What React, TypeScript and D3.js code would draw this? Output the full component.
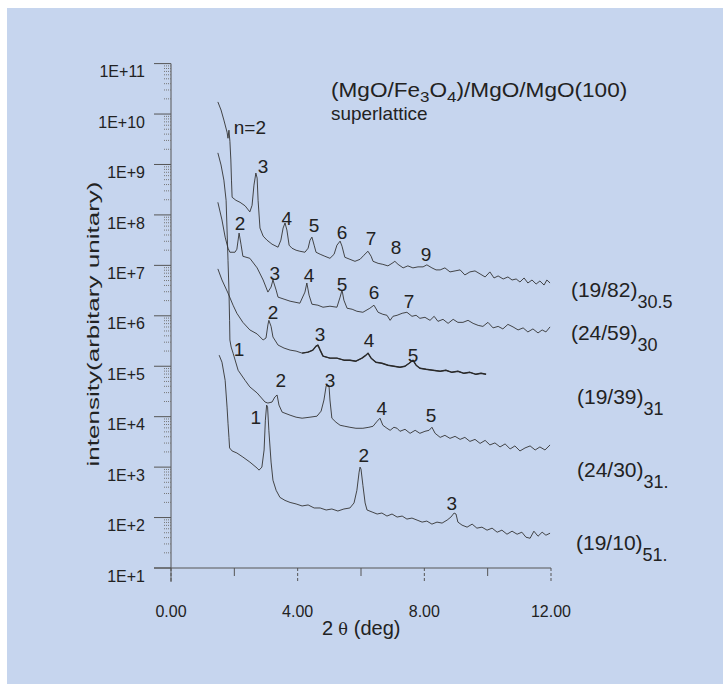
import * as d3 from "d3";

// 2θ (deg) , log10(intensity) pairs
const curve1982 = [
  [1.48, 10.24], [1.58, 10.08], [1.67, 9.88], [1.77, 9.64], [1.8, 9.52], [1.83, 9.68], [1.86, 9.46],
  [1.89, 9.09], [1.91, 8.69], [1.93, 8.35], [2.05, 8.29], [2.18, 8.25], [2.34, 8.18], [2.49, 8.06],
  [2.56, 8.19], [2.62, 8.59], [2.68, 8.83], [2.72, 8.73], [2.75, 8.29], [2.81, 7.74], [2.91, 7.58],
  [3.03, 7.5], [3.19, 7.42], [3.38, 7.36], [3.47, 7.5], [3.54, 7.74], [3.6, 7.84], [3.66, 7.7],
  [3.73, 7.4], [3.82, 7.34], [3.95, 7.3], [4.07, 7.28], [4.23, 7.26], [4.33, 7.34], [4.39, 7.5],
  [4.45, 7.56], [4.52, 7.4], [4.58, 7.26], [4.71, 7.22], [4.86, 7.18], [5.02, 7.14], [5.15, 7.22],
  [5.24, 7.4], [5.34, 7.48], [5.4, 7.38], [5.49, 7.16], [5.65, 7.12], [5.81, 7.08], [5.97, 7.12],
  [6.09, 7.2], [6.22, 7.28], [6.32, 7.18], [6.38, 7.08], [6.54, 7.04], [6.69, 7.02], [6.85, 6.99],
  [6.98, 7.04], [7.07, 7.08], [7.17, 7.02], [7.33, 6.95], [7.48, 6.99], [7.64, 6.95], [7.8, 6.97],
  [7.96, 6.97], [8.08, 7.01], [8.24, 6.95], [8.37, 6.91], [8.5, 6.91], [8.65, 6.95], [8.81, 6.87],
  [8.97, 6.89], [9.13, 6.91], [9.28, 6.81], [9.44, 6.87], [9.6, 6.89], [9.76, 6.83], [9.92, 6.77],
  [10.07, 6.87], [10.2, 6.75], [10.33, 6.79], [10.49, 6.73], [10.64, 6.77], [10.77, 6.71], [10.9, 6.73],
  [11.02, 6.67], [11.15, 6.75], [11.27, 6.65], [11.4, 6.71], [11.53, 6.63], [11.65, 6.69], [11.78, 6.61],
  [11.87, 6.71], [11.97, 6.65],
];

const curve2459 = [
  [1.48, 8.25], [1.61, 7.9], [1.71, 7.56], [1.8, 7.34], [1.86, 7.26], [2.02, 7.26], [2.08, 7.32],
  [2.15, 7.64], [2.21, 7.42], [2.27, 7.18], [2.49, 7.14], [2.72, 6.95], [2.91, 6.71], [3.06, 6.47],
  [3.16, 6.57], [3.22, 6.71], [3.32, 6.51], [3.38, 6.37], [3.57, 6.33], [3.76, 6.29], [4.07, 6.25],
  [4.23, 6.47], [4.29, 6.65], [4.36, 6.41], [4.45, 6.23], [4.64, 6.21], [4.8, 6.17], [5.02, 6.19],
  [5.24, 6.17], [5.34, 6.37], [5.4, 6.51], [5.46, 6.31], [5.56, 6.15], [5.72, 6.13], [5.87, 6.09],
  [6.06, 6.07], [6.28, 6.15], [6.41, 6.21], [6.54, 6.07], [6.69, 6.03], [6.82, 6.01], [6.92, 5.91],
  [7.01, 5.99], [7.14, 6.01], [7.3, 6.05], [7.45, 6.07], [7.61, 5.99], [7.74, 6.01], [7.86, 5.95],
  [8.02, 5.97], [8.18, 5.91], [8.31, 5.99], [8.43, 5.89], [8.59, 5.93], [8.75, 5.85], [8.91, 5.93],
  [9.06, 5.87], [9.22, 5.87], [9.38, 5.91], [9.54, 5.85], [9.7, 5.81], [9.85, 5.79], [10.01, 5.87],
  [10.17, 5.76], [10.33, 5.79], [10.48, 5.74], [10.64, 5.83], [10.8, 5.78], [10.96, 5.72], [11.12, 5.76],
  [11.27, 5.68], [11.43, 5.74], [11.59, 5.66], [11.72, 5.72], [11.84, 5.68], [11.97, 5.78],
];

const curve1939 = [
  [1.48, 6.93], [1.61, 6.71], [1.8, 6.45], [1.96, 6.21], [2.08, 6.05], [2.27, 5.87], [2.49, 5.72],
  [2.72, 5.64], [2.91, 5.52], [3.0, 5.56], [3.06, 5.82], [3.09, 5.91], [3.16, 5.79], [3.22, 5.58],
  [3.38, 5.42], [3.57, 5.36], [3.76, 5.32], [3.95, 5.3], [4.14, 5.26], [4.33, 5.28], [4.48, 5.32],
  [4.58, 5.4], [4.64, 5.42], [4.71, 5.32], [4.8, 5.2], [5.02, 5.16], [5.24, 5.16], [5.46, 5.12],
  [5.65, 5.12], [5.84, 5.1], [6.03, 5.16], [6.16, 5.22], [6.22, 5.26], [6.32, 5.16], [6.47, 5.08],
  [6.66, 5.06], [6.85, 5.02], [7.04, 5.0], [7.23, 4.98], [7.39, 5.0], [7.52, 5.06], [7.64, 5.12],
  [7.74, 5.02], [7.86, 4.96], [8.05, 4.94], [8.27, 4.92], [8.5, 4.9], [8.68, 4.92], [8.87, 4.88],
  [9.06, 4.9], [9.25, 4.86], [9.44, 4.88], [9.63, 4.84], [9.79, 4.86], [9.95, 4.84],
];

const curve2430 = [
  [1.48, 9.23], [1.58, 8.99], [1.67, 8.69], [1.74, 8.29], [1.77, 7.7], [1.8, 7.1], [1.83, 6.51],
  [1.85, 5.91], [1.86, 5.52], [1.9, 5.38], [1.96, 5.26], [2.12, 4.92], [2.34, 4.72], [2.49, 4.59],
  [2.72, 4.47], [2.97, 4.29], [3.06, 4.27], [3.19, 4.29], [3.28, 4.39], [3.35, 4.43], [3.41, 4.23],
  [3.51, 4.09], [3.76, 4.03], [3.95, 3.99], [4.14, 3.97], [4.39, 3.99], [4.61, 4.01], [4.74, 4.11],
  [4.83, 4.33], [4.9, 4.61], [4.93, 4.63], [4.99, 4.61], [5.02, 4.33], [5.08, 3.97], [5.21, 3.89],
  [5.34, 3.83], [5.49, 3.81], [5.65, 3.79], [5.84, 3.77], [6.06, 3.77], [6.25, 3.79], [6.38, 3.81],
  [6.51, 3.91], [6.6, 3.97], [6.69, 3.83], [6.82, 3.77], [6.92, 3.73], [7.04, 3.79], [7.14, 3.77],
  [7.23, 3.71], [7.39, 3.75], [7.55, 3.67], [7.71, 3.73], [7.86, 3.67], [8.02, 3.71], [8.15, 3.73],
  [8.24, 3.79], [8.34, 3.67], [8.5, 3.59], [8.65, 3.63], [8.81, 3.57], [8.97, 3.61], [9.13, 3.55],
  [9.28, 3.59], [9.44, 3.51], [9.6, 3.55], [9.76, 3.47], [9.92, 3.53], [10.07, 3.44], [10.23, 3.48],
  [10.39, 3.4], [10.55, 3.46], [10.71, 3.36], [10.86, 3.42], [11.02, 3.32], [11.18, 3.38], [11.34, 3.42],
  [11.5, 3.34], [11.65, 3.4], [11.81, 3.34], [11.97, 3.44],
];

const curve1910 = [
  [1.52, 5.22], [1.61, 5.08], [1.71, 4.72], [1.77, 4.19], [1.8, 3.87], [1.83, 3.59], [1.85, 3.38],
  [1.93, 3.32], [2.08, 3.28], [2.27, 3.2], [2.49, 3.1], [2.72, 2.98], [2.78, 2.94], [2.87, 3.0],
  [2.94, 3.34], [2.98, 3.93], [3.02, 4.23], [3.05, 4.19], [3.09, 3.73], [3.16, 3.1], [3.22, 2.74],
  [3.32, 2.54], [3.44, 2.4], [3.6, 2.34], [3.76, 2.3], [3.95, 2.27], [4.14, 2.23], [4.33, 2.25],
  [4.52, 2.19], [4.71, 2.19], [4.9, 2.15], [5.08, 2.17], [5.27, 2.13], [5.46, 2.17], [5.65, 2.19],
  [5.78, 2.29], [5.87, 2.54], [5.94, 2.9], [5.97, 3.0], [6.0, 2.96], [6.06, 2.64], [6.13, 2.29],
  [6.19, 2.15], [6.35, 2.11], [6.51, 2.07], [6.66, 2.09], [6.82, 2.03], [6.98, 2.07], [7.14, 2.01],
  [7.3, 2.03], [7.45, 1.97], [7.61, 1.99], [7.77, 1.95], [7.93, 1.91], [8.08, 1.93], [8.24, 1.87],
  [8.4, 1.91], [8.56, 1.89], [8.72, 1.95], [8.84, 2.01], [8.94, 2.09], [9.0, 2.07], [9.06, 1.91],
  [9.19, 1.85], [9.35, 1.81], [9.51, 1.87], [9.66, 1.79], [9.82, 1.81], [9.98, 1.75], [10.14, 1.79],
  [10.3, 1.71], [10.45, 1.75], [10.61, 1.67], [10.77, 1.73], [10.93, 1.67], [11.08, 1.71], [11.21, 1.61],
  [11.34, 1.59], [11.46, 1.73], [11.59, 1.63], [11.72, 1.71], [11.84, 1.65], [11.97, 1.69],
];

// peak orders: [text, 2θ, log10 I] at the centre of the number
const peaks1982 = [["n=2", 2.49, 9.74], ["3", 2.91, 8.97], ["4", 3.66, 7.94], ["5", 4.52, 7.8], ["6", 5.4, 7.66], ["7", 6.32, 7.54], ["8", 7.11, 7.36], ["9", 8.05, 7.22]];
const peaks2459 = [["2", 2.18, 7.84], ["3", 3.28, 6.85], ["4", 4.36, 6.81], ["5", 5.4, 6.63], ["6", 6.41, 6.47], ["7", 7.52, 6.29]];
const peaks1939 = [["2", 3.22, 6.07], ["3", 4.71, 5.64], ["4", 6.25, 5.52], ["5", 7.64, 5.22]];
const peaks2430 = [["1", 2.15, 5.34], ["2", 3.47, 4.72], ["3", 5.02, 4.72], ["4", 6.66, 4.17], ["5", 8.21, 4.03]];
const peaks1910 = [["1", 2.68, 3.99], ["2", 6.09, 3.24], ["3", 8.87, 2.29]];

const sampleNames = ["(19/82)", "(24/59)", "(19/39)", "(24/30)", "(19/10)"];
const sampleSubs = ["30.5", "30", "31", "31.", "51."];
const sampleLabelAt = [[12.63, 6.37], [12.63, 5.52], [12.82, 4.25], [12.82, 2.8], [12.79, 1.35]];

const yTickExp = [1, 2, 3, 4, 5, 6, 7, 8, 9, 10, 11];
const xTicks = [0, 4, 8, 12];
const xMinorTicks = [2, 6, 10];

const FONT = "'Liberation Sans', Arial, Helvetica, sans-serif";

export default function App() {
  const x = d3.scaleLinear().domain([0, 12]).range([171, 551]);
  const y = d3.scaleLog().domain([1e1, 1e11]).range([568, 63.6]);
  const line = d3
    .line<number[]>()
    .x((d) => x(d[0]))
    .y((d) => y(Math.pow(10, d[1])));

  const curves = [curve1982, curve2459, curve1939, curve2430, curve1910];
  const peaks = [peaks1982, peaks2459, peaks1939, peaks2430, peaks1910];

  const minor: number[] = [];
  yTickExp.slice(0, -1).forEach((e) => {
    for (let k = 2; k <= 9; k++) minor.push(k * Math.pow(10, e));
  });

  const x0 = x(0);
  const yBase = y(1e1);

  // the (19/39) scan is plotted denser beyond ~4 deg, so it reads heavier there
  const heavyTail = curve1939.filter((d) => d[0] >= 4.1);

  return (
    <svg
      width={723}
      height={684}
      style={{ position: "absolute", left: 0, top: 0 }}
      fontFamily={FONT}
    >
      <rect x={0} y={0} width={723} height={684} fill="#ffffff" />
      <rect x={7} y={8} width={716} height={676} fill="#c6d5ee" />

      {/* axes */}
      <g stroke="#555" strokeWidth={1} fill="none">
        <line x1={x0} x2={x0} y1={y(1e11)} y2={yBase + 14} />
        <line x1={x0 - 17} x2={x(12)} y1={yBase} y2={yBase} />
        {yTickExp.map((e) => (
          <line key={e} x1={x0 - 17} x2={x0} y1={y(Math.pow(10, e))} y2={y(Math.pow(10, e))} />
        ))}
        {minor.map((v, i) => (
          <line key={i} x1={x0 - 7} x2={x0} y1={y(v)} y2={y(v)} stroke="#777" strokeDasharray="1 1" />
        ))}
        {xTicks.map((t) => (
          <line key={t} x1={x(t)} x2={x(t)} y1={yBase} y2={yBase + 15} strokeDasharray="3 2" />
        ))}
        {xMinorTicks.map((t) => (
          <line key={t} x1={x(t)} x2={x(t)} y1={yBase} y2={yBase + 8} />
        ))}
      </g>

      <g fontSize={16} fill="#222" textAnchor="end">
        {yTickExp.map((e) => (
          <text key={e} x={145} y={y(Math.pow(10, e)) + 8} dy="0.35em">
            {`1E+${e}`}
          </text>
        ))}
      </g>
      <g fontSize={16} fill="#222" textAnchor="middle">
        {xTicks.map((t) => (
          <text key={t} x={x(t)} y={617}>
            {t.toFixed(2)}
          </text>
        ))}
      </g>

      {/* axis titles */}
      <text x={322} y={635} fontSize={20} fill="#222">
        2
        <tspan fontFamily="'DejaVu Serif', serif" fontSize={16} dx={5}>
          θ
        </tspan>
        <tspan dx={6}>(deg)</tspan>
      </text>
      <text
        transform="translate(99,324) rotate(-90)"
        textAnchor="middle"
        fontSize={17}
        fill="#222"
        textLength={285}
        lengthAdjust="spacingAndGlyphs"
      >
        intensity(arbitary unitary)
      </text>

      {/* curves */}
      {curves.map((c, i) => (
        <path
          key={i}
          d={line(c) || ""}
          fill="none"
          stroke="#333"
          strokeWidth={0.9}
          strokeLinejoin="round"
        />
      ))}
      <path d={line(heavyTail) || ""} fill="none" stroke="#2a2a2a" strokeWidth={1.4} strokeLinejoin="round" />

      {/* peak numbers */}
      <g fontSize={19} fill="#222" textAnchor="middle">
        {peaks.map((p, i) =>
          p.map((d, j) => (
            <text key={`${i}-${j}`} x={x(d[1] as number)} y={y(Math.pow(10, d[2] as number))} dy="0.35em">
              {d[0]}
            </text>
          ))
        )}
      </g>

      {/* sample labels */}
      <g fill="#222">
        {sampleNames.map((n, i) => (
          <text
            key={n + i}
            x={x(sampleLabelAt[i][0])}
            y={y(Math.pow(10, sampleLabelAt[i][1]))}
            fontSize={21}
          >
            {n}
            <tspan fontSize={18} dy={11}>
              {sampleSubs[i]}
            </tspan>
          </text>
        ))}
      </g>

      {/* title */}
      <text transform="translate(331,97) scale(1.13,1)" fontSize={20} fill="#222">
        (MgO/Fe
        <tspan fontSize={15} dy={5}>3</tspan>
        <tspan dy={-5}>O</tspan>
        <tspan fontSize={15} dy={5}>4</tspan>
        <tspan dy={-5}>)/MgO/MgO(100)</tspan>
      </text>
      <text transform="translate(331,120) scale(1.05,1)" fontSize={18} fill="#222">
        superlattice
      </text>
    </svg>
  );
}
